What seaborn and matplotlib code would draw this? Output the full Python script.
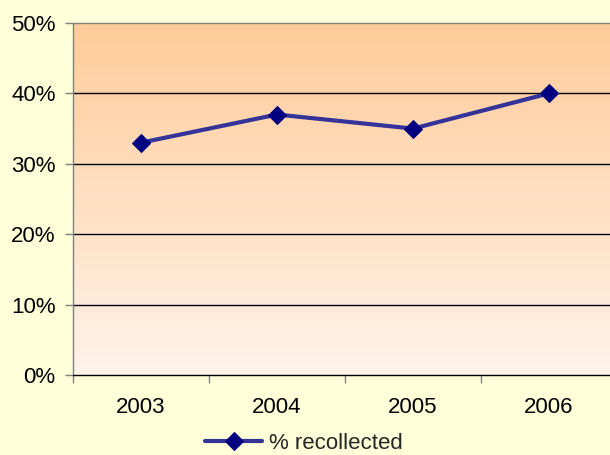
import numpy as np
import pandas as pd
import matplotlib
matplotlib.use("Agg")
import matplotlib.pyplot as plt
import seaborn as sns
from matplotlib.colors import LinearSegmentedColormap

# Data
years = ["2003", "2004", "2005", "2006"]
recollected = [33, 37, 35, 40]
series_name = "% recollected"
y_ticks = [0, 10, 20, 30, 40, 50]
y_tick_labels = [f"{v}%" for v in y_ticks]

df = pd.DataFrame({"year": years, "value": recollected})

sns.set_theme(style="white")
plt.rcParams["font.family"] = ["Liberation Sans", "DejaVu Sans"]

FS = 16

fig = plt.figure(figsize=(6.1, 4.55), dpi=100, facecolor="#FFFFD9")
ax = fig.add_axes([73 / 610, 80 / 455, 544 / 610, 352 / 455])
ax.set_facecolor("none")

# Vertical gradient fill of the plot area (pale peach at bottom, orange at top)
grad_cmap = LinearSegmentedColormap.from_list("peach", ["#FFF3EA", "#FFCB99"])
ax.imshow(np.linspace(0, 1, 256).reshape(-1, 1), extent=[-0.5, 3.5, 0, 50],
          aspect="auto", cmap=grad_cmap, origin="lower", zorder=0)

# Horizontal gridlines
for v in y_ticks[1:-1]:
    ax.axhline(v, color="black", linewidth=1, zorder=1)

sns.lineplot(data=df, x="year", y="value", ax=ax, color="#333399",
             linewidth=3, marker="D", markersize=9.5,
             markerfacecolor="#000080", markeredgecolor="#000080",
             label=series_name, zorder=3)

ax.set_xlim(-0.5, 3.5)
ax.set_ylim(0, 50)
ax.set_xlabel("")
ax.set_ylabel("")

ax.set_yticks(y_ticks)
ax.set_yticklabels(y_tick_labels)
ax.set_xticks(range(len(years)))
ax.set_xticklabels(years)
ax.set_xticks([i - 0.5 for i in range(len(years) + 1)], minor=True)

ax.tick_params(axis="y", which="major", direction="out", length=6, width=1,
               color="#808080", pad=6.5, labelsize=FS, labelcolor="black", left=True)
ax.tick_params(axis="x", which="major", length=0, pad=16, labelsize=FS,
               labelcolor="black")
ax.tick_params(axis="x", which="minor", direction="out", length=6, width=1,
               color="#808080", bottom=True)

for side in ["top", "left"]:
    ax.spines[side].set_color("#808080")
    ax.spines[side].set_linewidth(1)
ax.spines["bottom"].set_color("black")
ax.spines["bottom"].set_linewidth(1)
ax.spines["right"].set_visible(False)

ax.legend(loc="center", bbox_to_anchor=(0.498, 0.026), bbox_transform=fig.transFigure,
          frameon=False, fontsize=FS, handlelength=2.6, handletextpad=0.3,
          borderpad=0, borderaxespad=0)

fig.savefig("out.png", dpi=100, facecolor=fig.get_facecolor())
